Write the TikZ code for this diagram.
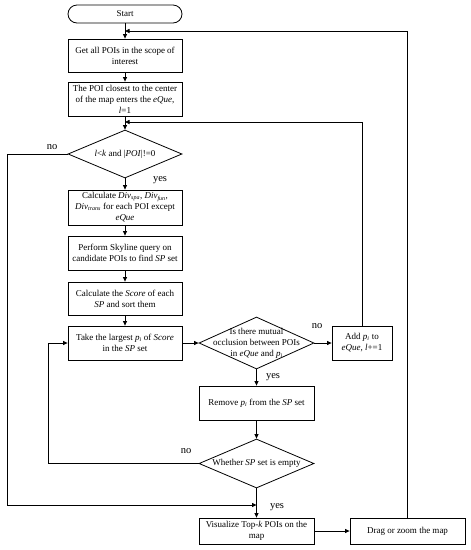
\documentclass[tikz,border=0pt]{standalone}
\usepackage{fontspec}
\setmainfont{Liberation Serif}
\usetikzlibrary{arrows.meta,shapes.geometric}
\newcommand{\vi}[1]{\textit{#1}}
\newcommand{\dv}[1]{\textit{Div}\textsubscript{\textit{#1}}}
\begin{document}
\begin{tikzpicture}[x=1pt,y=-1pt,
  box/.style={draw,line width=0.8pt,minimum width=114pt,inner sep=1pt,align=center,font=\fontsize{9}{11}\selectfont},
  startbox/.style={box,rounded corners=9pt,minimum height=18pt},
  dia/.style={draw,line width=0.8pt,diamond,inner sep=0pt},
  dtext/.style={align=center,inner sep=0pt,font=\fontsize{9}{11}\selectfont},
  lab/.style={font=\fontsize{10.5}{12}\selectfont,inner sep=0pt},
  arr/.style={line width=0.8pt,-{Triangle[length=4.5pt,width=4pt]}},
  ln/.style={line width=0.8pt}]
\useasboundingbox (0,0) rectangle (471,550);
\fill[white] (0,0) rectangle (471,550);

\node[startbox] (start) at (125,14) {Start};
\node[box,minimum height=33pt] (b1) at (125,55.5) {Get all POIs in the scope of\\interest};
\node[box,minimum height=34pt] (b2) at (125,99) {The POI closest to the center\\of the map enters the \vi{eQue},\\\vi{l}=1};
\node[dia,minimum width=114pt,minimum height=48pt] (d1) at (125,154) {};
\node[dtext] (d1t) at (d1.center) {\vi{l}<\vi{k} and |\vi{POI}|!=0};
\node[box,minimum height=35pt] (b3) at (125,207.5) {Calculate \dv{spa}, \dv{fun},\\\dv{trans} for each POI except\\\vi{eQue}};
\node[box,minimum height=34pt] (b4) at (125,253) {Perform Skyline query on\\candidate POIs to find \vi{SP} set};
\node[box,minimum height=33pt] (b5) at (125,298.5) {Calculate the \vi{Score} of each\\\vi{SP} and sort them};
\node[box,minimum height=34pt] (b6) at (125,343) {Take the largest \vi{p}\textsubscript{\vi{i}} of \vi{Score}\\in the \vi{SP} set};
\node[dia,minimum width=115pt,minimum height=52pt] (d2) at (256.5,343) {};
\node[dtext] (d2t) at (d2.center) {Is there mutual\\occlusion between POIs\\in \vi{eQue} and \vi{p}\textsubscript{\vi{i}}};
\node[box,minimum width=60pt,minimum height=34pt] (b7) at (362,343) {Add \vi{p}\textsubscript{\vi{i}} to\\\vi{eQue}, \vi{l}+=1};
\node[box,minimum width=115pt,minimum height=34pt] (b8) at (256.5,403) {Remove \vi{p}\textsubscript{\vi{i}} from the \vi{SP} set};
\node[dia,minimum width=115pt,minimum height=49pt] (d3) at (256.5,463.5) {};
\node[dtext] (d3t) at (d3.center) {Whether \vi{SP} set is empty};
\node[box,minimum width=115pt,minimum height=26pt] (b9) at (256.5,531) {Visualize Top-\vi{k} POIs on the\\map};
\node[box,minimum width=115pt,minimum height=26pt] (b10) at (407.5,531) {Drag or zoom the map};

\coordinate (m1) at (125,31);
\coordinate (r1) at (407,31);
\coordinate (m2) at (125,122);
\coordinate (r2) at (362,122);
\coordinate (ll) at (7,154);
\coordinate (lb) at (7,505);
\coordinate (mb) at (256.5,505);
\coordinate (l3) at (48,463.5);
\coordinate (l3t) at (48,343);

\draw[arr] (start) -- (b1);
\draw[arr] (b1) -- (b2);
\draw[arr] (b2) -- (d1);
\draw[arr] (d1) -- (b3);
\draw[arr] (b3) -- (b4);
\draw[arr] (b4) -- (b5);
\draw[arr] (b5) -- (b6);
\draw[arr] (b6) -- (d2);
\draw[arr] (d2) -- (b7);
\draw[arr] (d2) -- (b8);
\draw[arr] (b8) -- (d3);
\draw[arr] (d3) -- (b9);
\draw[arr] (b9) -- (b10);
\draw[arr] (b10.north -| r1) -- (r1) -- (m1);
\draw[arr] (b7.north) -- (r2) -- (m2);
\draw[arr] (d1.west) -- (ll) -- (lb) -- (mb);
\draw[arr] (d3.west) -- (l3) -- (l3t) -- (b6.west);

\node[lab] (no1) at (52,147) {no};
\node[lab] (yes1) at (160,180) {yes};
\node[lab] (no2) at (317,326) {no};
\node[lab] (yes2) at (273,377) {yes};
\node[lab] (no3) at (186,451) {no};
\node[lab] (yes3) at (277,507) {yes};
\end{tikzpicture}
\end{document}
